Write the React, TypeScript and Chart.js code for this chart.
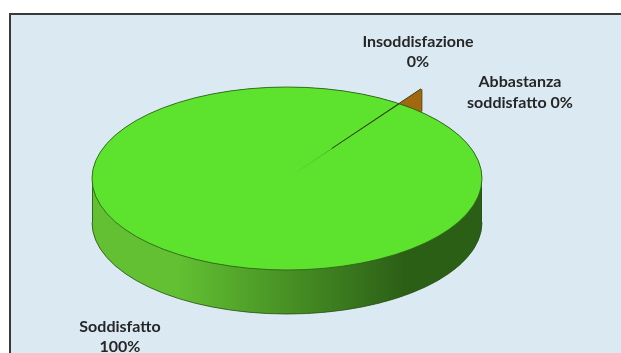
import React, { useEffect, useRef } from "react";
import { Chart, registerables } from "chart.js";

Chart.register(...registerables);

// Survey answers and their shares (percent)
const CATEGORIES = ["Insoddisfazione", "Abbastanza soddisfatto", "Soddisfatto"];
const VALUES = [0, 0.1, 99.9];
const SLICE_COLORS = ["#b5402e", "#a86b12", "#5de22e"];
const SIDE_LIGHT = ["#9a3526", "#a2680f", "#62c032"];
const SIDE_DARK = ["#6e2418", "#a2680f", "#2c5f16"];
const EXPLODE = [0, 58, 0];

// Tilted disc geometry on the canvas
const DISC = { cx: 287, cy: 178.5, rx: 195, ry: 91.5, depth: 44 };
// Label anchors: centre x and baseline of the first line, gap to the second line
const LABEL_POS = [
  { x: 418, y: 47, gap: 20 },
  { x: 520, y: 87, gap: 21 },
  { x: 120, y: 332, gap: 20 },
];

const W = 621;
const H = 353;

function pctText(v: number, total: number) {
  return Math.round((v / total) * 100) + "%";
}

function labelLines(name: string, pct: string): string[] {
  const i = name.indexOf(" ");
  if (i < 0) return [name, pct];
  return [name.slice(0, i), name.slice(i + 1) + " " + pct];
}

// geometry of one arc element as Chart.js draws it (offset included)
function arcGeom(arc: any, x0: number, y0: number) {
  const { startAngle, endAngle, outerRadius } = arc;
  const circ = endAngle - startAngle;
  const off = (arc.options.offset || 0) / 4;
  const mid = (startAngle + endAngle) / 2;
  const fix = 1 - Math.sin(Math.min(Math.PI, circ));
  return {
    startAngle,
    endAngle,
    circ,
    mid,
    cx: x0 + Math.cos(mid) * off,
    cy: y0 + Math.sin(mid) * off,
    r: outerRadius + off * fix,
  };
}

function discMap(chart: any) {
  const arcs = chart.getDatasetMeta(0).data;
  const x0 = arcs[0].x;
  const y0 = arcs[0].y;
  const R = arcs[0].outerRadius;
  const sx = DISC.rx / R;
  const sy = DISC.ry / R;
  const map = (px: number, py: number) => [DISC.cx + (px - x0) * sx, DISC.cy + (py - y0) * sy];
  return { arcs, x0, y0, R, sx, sy, map };
}

// convex hull (monotone chain) of a point list
function hull(pts: number[][]): number[][] {
  const p = pts.slice().sort((a, b) => (a[0] === b[0] ? a[1] - b[1] : a[0] - b[0]));
  const cross = (o: number[], a: number[], b: number[]) =>
    (a[0] - o[0]) * (b[1] - o[1]) - (a[1] - o[1]) * (b[0] - o[0]);
  const lower: number[][] = [];
  for (const q of p) {
    while (lower.length >= 2 && cross(lower[lower.length - 2], lower[lower.length - 1], q) <= 0) lower.pop();
    lower.push(q);
  }
  const upper: number[][] = [];
  for (let i = p.length - 1; i >= 0; i--) {
    const q = p[i];
    while (upper.length >= 2 && cross(upper[upper.length - 2], upper[upper.length - 1], q) <= 0) upper.pop();
    upper.push(q);
  }
  upper.pop();
  lower.pop();
  return lower.concat(upper);
}

const pie3d = {
  id: "pie3d",
  beforeDraw(chart: any) {
    const ctx = chart.ctx;
    ctx.save();
    ctx.fillStyle = "#ffffff";
    ctx.fillRect(0, 0, chart.width, chart.height);
    ctx.fillStyle = "#dbeaf2";
    ctx.fillRect(10, 14, chart.width, chart.height);
    ctx.strokeStyle = "#3a3a3a";
    ctx.lineWidth = 2;
    ctx.strokeRect(10, 14, chart.width + 40, chart.height + 40);
    ctx.restore();
  },
  beforeDatasetsDraw(chart: any) {
    const ctx = chart.ctx;
    const { arcs, x0, y0, sx, sy, map } = discMap(chart);

    const items: any[] = [];
    arcs.forEach((arc: any, i: number) => {
      const g = arcGeom(arc, x0, y0);
      if (g.circ <= 0) return;
      const pts: number[][] = [map(g.cx, g.cy)];
      const steps = Math.max(4, Math.ceil(g.circ / 0.01));
      for (let s = 0; s <= steps; s++) {
        const a = g.startAngle + (g.circ * s) / steps;
        pts.push(map(g.cx + Math.cos(a) * g.r, g.cy + Math.sin(a) * g.r));
      }
      // solid swept down by the disc thickness
      const swept = hull(pts.concat(pts.map(([px, py]) => [px, py + DISC.depth])));
      items.push({ i, swept, key: Math.sin(g.mid) });
    });
    items.sort((a, b) => a.key - b.key);

    // side walls, back slices first
    items.forEach(({ i, swept }) => {
      const grad = ctx.createLinearGradient(DISC.cx - DISC.rx, 0, DISC.cx + DISC.rx, 0);
      grad.addColorStop(0, SIDE_LIGHT[i]);
      grad.addColorStop(0.22, SIDE_LIGHT[i]);
      grad.addColorStop(0.8, SIDE_DARK[i]);
      grad.addColorStop(1, SIDE_DARK[i]);
      ctx.save();
      ctx.fillStyle = grad;
      ctx.beginPath();
      swept.forEach(([px, py]: number[], k: number) => (k ? ctx.lineTo(px, py) : ctx.moveTo(px, py)));
      ctx.closePath();
      ctx.fill();
      ctx.restore();
    });

    // outline of the side
    ctx.save();
    ctx.strokeStyle = "rgba(40,80,20,0.8)";
    ctx.lineWidth = 1;
    ctx.beginPath();
    ctx.ellipse(DISC.cx, DISC.cy + DISC.depth, DISC.rx, DISC.ry, 0, 0, Math.PI);
    ctx.stroke();
    ctx.beginPath();
    ctx.moveTo(DISC.cx - DISC.rx + 0.5, DISC.cy);
    ctx.lineTo(DISC.cx - DISC.rx + 0.5, DISC.cy + DISC.depth);
    ctx.moveTo(DISC.cx + DISC.rx - 0.5, DISC.cy);
    ctx.lineTo(DISC.cx + DISC.rx - 0.5, DISC.cy + DISC.depth);
    ctx.stroke();
    ctx.restore();

    // squash the flat pie into the tilted top face
    ctx.save();
    ctx.translate(DISC.cx, DISC.cy);
    ctx.scale(sx, sy);
    ctx.translate(-x0, -y0);
  },
  afterDatasetsDraw(chart: any) {
    const ctx = chart.ctx;
    ctx.restore();
    const { arcs, x0, y0, R, map } = discMap(chart);

    // rim of the top face
    ctx.save();
    ctx.strokeStyle = "rgba(45,95,25,0.85)";
    ctx.lineWidth = 1;
    ctx.beginPath();
    ctx.ellipse(DISC.cx, DISC.cy, DISC.rx, DISC.ry, 0, 0, Math.PI * 2);
    ctx.stroke();
    ctx.restore();

    // edges of the exploded small slice
    const g = arcGeom(arcs[1], x0, y0);
    if (g.circ > 0) {
      const a = g.startAngle;
      const [ax, ay] = map(x0 + Math.cos(a) * R * 0.4, y0 + Math.sin(a) * R * 0.4);
      const [bx, by] = map(g.cx + Math.cos(a) * g.r, g.cy + Math.sin(a) * g.r);
      const [ex, ey] = map(g.cx + Math.cos(g.endAngle) * g.r, g.cy + Math.sin(g.endAngle) * g.r);
      ctx.save();
      ctx.strokeStyle = "#34461a";
      ctx.lineWidth = 1;
      ctx.beginPath();
      ctx.moveTo(ax, ay);
      ctx.lineTo(bx, by);
      ctx.stroke();
      ctx.strokeStyle = "rgba(80,55,10,0.8)";
      ctx.beginPath();
      ctx.moveTo(ex, ey);
      ctx.lineTo(ex, ey + DISC.depth * 0.5);
      ctx.stroke();
      ctx.restore();
    }

    // labels
    const total = VALUES.reduce((s, v) => s + v, 0);
    ctx.save();
    ctx.fillStyle = "#262626";
    ctx.font = "bold 16px Lato";
    ctx.textAlign = "center";
    ctx.textBaseline = "alphabetic";
    CATEGORIES.forEach((name, i) => {
      const lines = labelLines(name, pctText(VALUES[i], total));
      const p = LABEL_POS[i];
      lines.forEach((ln, j) => ctx.fillText(ln, p.x, p.y + j * p.gap));
    });
    ctx.restore();
  },
};

export default function App() {
  const ref = useRef<HTMLCanvasElement | null>(null);
  useEffect(() => {
    if (!ref.current) return;
    const chart = new Chart(ref.current, {
      type: "pie",
      data: {
        labels: CATEGORIES,
        datasets: [
          {
            data: VALUES,
            backgroundColor: SLICE_COLORS,
            borderWidth: 0,
            offset: EXPLODE,
            clip: false,
          } as any,
        ],
      },
      options: {
        responsive: false,
        maintainAspectRatio: false,
        animation: false,
        events: [],
        rotation: 35,
        layout: { padding: 0 },
        plugins: { legend: { display: false }, tooltip: { enabled: false } },
      },
      plugins: [pie3d],
    });
    return () => chart.destroy();
  }, []);
  return (
    <div style={{ position: "fixed", left: 0, top: 0, width: W, height: H }}>
      <canvas ref={ref} width={W} height={H} style={{ display: "block" }} />
    </div>
  );
}
